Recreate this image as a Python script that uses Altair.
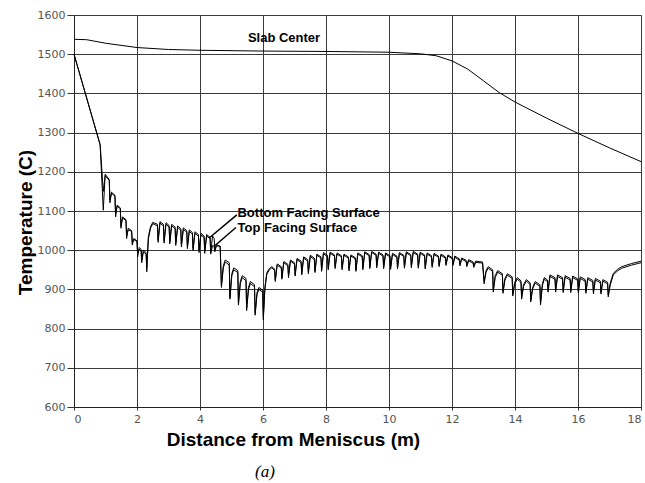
import altair as alt
import pandas as pd

# Sample positions along the caster (m), shared by both surface traces
surf_x = [0.00, 0.83, 0.93, 0.99, 1.12, 1.14, 1.19, 1.30, 1.32, 1.37, 1.47, 1.49, 1.54, 1.65, 1.67, 1.72, 1.83, 1.85, 1.90, 2.00, 2.02, 2.07, 2.13, 2.15, 2.20, 2.29, 2.31, 2.36, 2.43, 2.50,
          2.65, 2.67, 2.73, 2.84, 2.86, 2.92, 3.02, 3.04, 3.10, 3.21, 3.23, 3.29, 3.39, 3.41, 3.47, 3.58, 3.60, 3.66, 3.76, 3.78, 3.84, 3.95, 3.97, 4.03, 4.13, 4.15, 4.21, 4.32, 4.34,
          4.40, 4.45, 4.47, 4.52, 4.64, 4.68, 4.74, 4.80, 4.93, 4.95, 5.01, 5.07, 5.20, 5.22, 5.28, 5.34, 5.46, 5.48, 5.54, 5.60, 5.73, 5.75, 5.81, 5.87, 5.99, 6.01, 6.06, 6.12, 6.20, 6.28,
          6.37, 6.39, 6.45, 6.58, 6.60, 6.66, 6.79, 6.81, 6.87, 7.00, 7.02, 7.08, 7.21, 7.23, 7.29, 7.42, 7.44, 7.50, 7.63, 7.65, 7.71, 7.84, 7.86, 7.92, 8.05, 8.07,
          8.13, 8.27, 8.29, 8.35, 8.49, 8.51, 8.57, 8.71, 8.73, 8.79, 8.93, 8.95, 9.01, 9.15, 9.17, 9.23, 9.37, 9.39, 9.45, 9.59, 9.61, 9.67, 9.81, 9.83, 9.89, 10.03, 10.05,
          10.11, 10.25, 10.27, 10.33, 10.47, 10.49, 10.55, 10.69, 10.71, 10.77, 10.91, 10.93, 10.99, 11.13, 11.15, 11.21, 11.35, 11.37, 11.43, 11.57, 11.59, 11.65, 11.79, 11.81, 11.87, 12.01, 12.03,
          12.09, 12.23, 12.25, 12.31, 12.45, 12.47, 12.53, 12.67, 12.69, 12.75, 12.97, 13.02, 13.08, 13.15, 13.29, 13.31, 13.37, 13.45, 13.60, 13.62, 13.68, 13.76, 13.91, 13.93, 13.99, 14.07, 14.19, 14.21, 14.27, 14.36, 14.48, 14.50, 14.56, 14.64, 14.79, 14.81,
          14.87, 14.93, 15.03, 15.05, 15.11, 15.27, 15.29, 15.35, 15.51, 15.53, 15.59, 15.75, 15.77, 15.83, 15.99, 16.01, 16.07, 16.23, 16.25, 16.31, 16.47, 16.49, 16.55, 16.71, 16.73, 16.79, 16.94, 16.96, 17.02, 17.12, 17.25, 17.39, 17.70, 18.00]

bottom_y = [1500, 1268, 1102, 1194, 1180, 1121, 1148, 1140, 1085, 1115, 1108, 1056, 1085, 1078, 1030, 1056, 1050, 1013, 1030, 1024, 983, 1007, 1002, 975, 1000, 994, 945, 1034, 1060, 1071,
            1066, 1026, 1073, 1066, 1024, 1070, 1063, 1022, 1066, 1059, 1018, 1062, 1055, 1014, 1057, 1050, 1010, 1052, 1045, 1005, 1047, 1040, 1000, 1043, 1036, 998, 1040, 1033, 995,
            1036, 1030, 1000, 1014, 1010, 911, 960, 975, 968, 880, 940, 955, 948, 865, 920, 935, 928, 852, 905, 920, 912, 840, 892, 905, 898, 822, 905, 942, 953, 958,
            952, 924, 965, 958, 930, 971, 964, 935, 975, 968, 938, 979, 972, 941, 983, 976, 944, 987, 980, 947, 990, 983, 950, 994, 987, 955,
            995, 988, 958, 993, 986, 955, 990, 983, 952, 988, 981, 950, 993, 986, 955, 996, 989, 958, 997, 990, 960, 995, 988, 958, 993, 986, 955,
            992, 985, 956, 994, 987, 958, 996, 989, 960, 997, 990, 958, 995, 988, 956, 993, 986, 960, 992, 985, 962, 990, 983, 965, 988, 981, 965,
            985, 978, 965, 980, 974, 963, 976, 970, 960, 972, 970, 920, 948, 958, 950, 898, 935, 948, 940, 895, 928, 940, 932, 888, 918, 930, 922, 880, 912, 925, 917, 873, 905, 920, 912, 865,
            915, 930, 924, 898, 937, 930, 898, 937, 930, 897, 935, 928, 897, 934, 927, 896, 932, 925, 895, 930, 923, 894, 928, 921, 893, 925, 918, 886, 915, 941, 951, 958, 966, 972]

top_y = [1500, 1270, 1150, 1190, 1178, 1128, 1145, 1138, 1092, 1112, 1106, 1062, 1082, 1076, 1036, 1052, 1048, 1018, 1027, 1022, 990, 1003, 998, 968, 996, 990, 955, 1028, 1056, 1068,
         1062, 1020, 1069, 1062, 1018, 1066, 1059, 1016, 1062, 1055, 1012, 1058, 1051, 1008, 1053, 1046, 1004, 1048, 1041, 999, 1043, 1036, 994, 1039, 1032, 992, 1036, 1030, 990,
         1012, 1010, 996, 1011, 1010, 905, 955, 970, 962, 875, 935, 950, 943, 860, 915, 930, 922, 846, 900, 915, 907, 834, 887, 900, 893, 830, 900, 938, 950, 955,
         948, 920, 962, 955, 926, 968, 960, 930, 972, 965, 934, 976, 968, 937, 980, 972, 940, 984, 976, 943, 987, 980, 946, 991, 983, 950,
         992, 985, 953, 990, 983, 950, 987, 980, 947, 985, 978, 946, 990, 983, 950, 993, 986, 953, 994, 987, 955, 992, 985, 953, 990, 983, 951,
         989, 982, 952, 991, 984, 954, 993, 986, 955, 994, 987, 954, 992, 985, 952, 990, 983, 956, 989, 982, 958, 987, 980, 961, 985, 978, 961,
         982, 975, 960, 977, 971, 958, 973, 967, 956, 969, 967, 914, 944, 954, 946, 893, 930, 944, 936, 890, 924, 936, 928, 883, 914, 926, 918, 875, 908, 921, 913, 868, 901, 916, 908, 860,
         910, 926, 920, 893, 933, 926, 893, 933, 926, 892, 931, 924, 892, 930, 923, 891, 928, 921, 890, 926, 919, 889, 924, 917, 888, 921, 914, 881, 910, 937, 947, 954, 962, 968]

center_x = [0.0, 0.4, 1.0, 2.0, 3.0, 4.0, 6.0, 8.0, 10.0, 11.0, 11.5, 12.0, 12.5, 13.0, 13.5, 14.0, 15.0, 16.0, 17.0, 18.0]
center_y = [1538, 1537, 1528, 1517, 1512, 1510, 1508, 1507, 1505, 1501, 1496, 1483, 1462, 1432, 1402, 1378, 1337, 1298, 1261, 1226]

assert len(surf_x) == len(bottom_y) == len(top_y)

x_ticks = [0, 2, 4, 6, 8, 10, 12, 14, 16, 18]
y_ticks = [600, 700, 800, 900, 1000, 1100, 1200, 1300, 1400, 1500, 1600]

label_text = ["Slab Center", "Bottom Facing Surface", "Top Facing Surface"]
label_x = [5.52, 5.19, 5.19]
label_y = [1541, 1095, 1057]

arrow_x = [5.17, 5.14]
arrow_y = [1090, 1058]
arrow_x2 = [4.29, 4.48]
arrow_y2 = [1031, 1012]

rows = []
for i, (x, yb, yt) in enumerate(zip(surf_x, bottom_y, top_y)):
    rows.append({"x": x, "y": yb, "series": "Bottom Facing Surface", "i": i})
    rows.append({"x": x, "y": yt, "series": "Top Facing Surface", "i": i})
for i, (x, y) in enumerate(zip(center_x, center_y)):
    rows.append({"x": x, "y": y, "series": "Slab Center", "i": i})
lines_df = pd.DataFrame(rows)

labels_df = pd.DataFrame({"x": label_x, "y": label_y, "text": label_text})
arrows_df = pd.DataFrame({"x": arrow_x, "y": arrow_y, "x2": arrow_x2, "y2": arrow_y2})
cap_df = pd.DataFrame({"x": [6.06], "y": [434], "text": ["(a)"]})

xscale = alt.Scale(domain=[0, 18], nice=False, zero=False)
yscale = alt.Scale(domain=[600, 1600], nice=False, zero=False)

x_axis = alt.Axis(values=x_ticks, tickCount=20, format="d", labelOverlap=False, title="Distance from Meniscus (m)", grid=True,
                  gridColor="#3a3a3a", gridOpacity=1, gridWidth=1,
                  domainColor="#222", tickColor="#333", tickSize=3,
                  labelFont="DejaVu Sans", labelFontSize=11, labelColor="#555", labelPadding=3,
                  titleFont="Liberation Sans", titleFontSize=19, titleFontWeight="bold", titleColor="black",
                  titleX=219, titleY=38, titleAlign="center", titleBaseline="alphabetic")
y_axis = alt.Axis(values=y_ticks, tickCount=20, format="d", labelOverlap=False, title="Temperature (C)", grid=True,
                  gridColor="#3a3a3a", gridOpacity=1, gridWidth=1,
                  domainColor="#222", tickColor="#333", tickSize=7,
                  labelFont="DejaVu Sans", labelFontSize=11, labelColor="#555", labelPadding=2,
                  titleFont="Liberation Sans", titleFontSize=19, titleFontWeight="bold", titleColor="black",
                  titleX=-43, titleY=207, titleAlign="center", titleBaseline="alphabetic", titleAngle=270)

lines = alt.Chart(lines_df).mark_line(color="black", strokeWidth=1).encode(
    x=alt.X("x:Q", scale=xscale, axis=x_axis),
    y=alt.Y("y:Q", scale=yscale, axis=y_axis),
    detail="series:N",
    order="i:Q",
)

arrows = alt.Chart(arrows_df).mark_rule(color="black", strokeWidth=1.5).encode(
    x="x:Q", y="y:Q", x2="x2:Q", y2="y2:Q"
)

labels = alt.Chart(labels_df).mark_text(align="left", baseline="middle", font="Liberation Sans",
                                        fontWeight="bold", fontSize=13, color="black").encode(
    x="x:Q", y="y:Q", text="text:N"
)

caption = alt.Chart(cap_df).mark_text(align="center", baseline="middle", font="Liberation Serif",
                                      fontStyle="italic", fontSize=17, color="black").encode(
    x="x:Q", y="y:Q", text="text:N"
)

chart = alt.layer(lines, arrows, labels, caption).properties(
    width=567, height=392,
    autosize=alt.AutoSizeParams(type="none"),
    padding={"left": 74, "top": 15, "right": 4, "bottom": 76},
).configure_view(stroke="#333", strokeWidth=1).configure(background="white")

chart.save("out.html", embed_options={"renderer": "svg", "actions": False})
